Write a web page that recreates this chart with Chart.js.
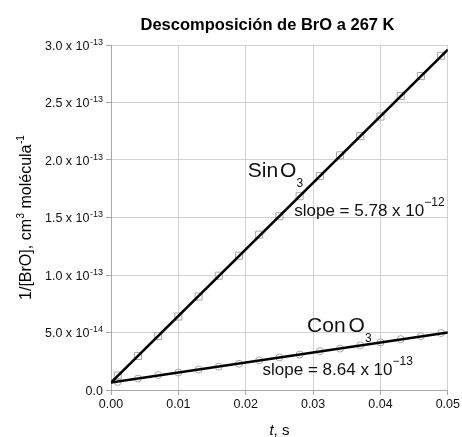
<!DOCTYPE html>
<html>
<head>
<meta charset="utf-8">
<script src="https://cdn.jsdelivr.net/npm/chart.js@4/dist/chart.umd.min.js"></script>
<style>
  body { margin: 0; background: #fff; }
</style>
</head>
<body>
<canvas id="myChart" width="462" height="437"></canvas>
<script>
// measured points, t in s, 1/[BrO] in cm3 molecule-1
const times = [0.001, 0.004, 0.007, 0.010, 0.013, 0.016, 0.019, 0.022, 0.025, 0.028, 0.031, 0.034, 0.037, 0.040, 0.043, 0.046, 0.049];
const sinO3 = [1.25e-14, 2.96e-14, 4.70e-14, 6.39e-14, 8.13e-14, 9.94e-14, 1.168e-13, 1.351e-13, 1.511e-13, 1.685e-13, 1.86e-13, 2.04e-13, 2.208e-13, 2.378e-13, 2.557e-13, 2.73e-13, 2.906e-13];
const conO3 = [7.0e-15, 1.0e-14, 1.3e-14, 1.52e-14, 1.78e-14, 2.03e-14, 2.28e-14, 2.58e-14, 2.83e-14, 3.08e-14, 3.38e-14, 3.6e-14, 3.88e-14, 4.14e-14, 4.42e-14, 4.67e-14, 4.95e-14];

// fitted lines (ends)
const fitTimes = [0, 0.05];
const sinFit = [6.5e-15, 2.96e-13];
const conFit = [6.5e-15, 5.0e-14];

// axis ticks
const xTicks = [0, 0.01, 0.02, 0.03, 0.04, 0.05];
const xTickLabels = ['0.00', '0.01', '0.02', '0.03', '0.04', '0.05'];
const yTicks = [0, 5e-14, 1e-13, 1.5e-13, 2e-13, 2.5e-13, 3e-13];
const yTickLabels = ['0.0', '5.0 x 10', '1.0 x 10', '1.5 x 10', '2.0 x 10', '2.5 x 10', '3.0 x 10'];
const yTickExps = ['', '-14', '-13', '-13', '-13', '-13', '-13'];

// text labels on the plot, anchored in data units (left, baseline)
const notes = [
  { x: 0.0203, y: 1.848e-13, parts: [['Sin', 'big'], ['O', 'big', 2], ['3', 'sub']] },
  { x: 0.0272, y: 1.517e-13, parts: [['slope = 5.78 x 10', 'mid'], ['\u221212', 'sup']] },
  { x: 0.0291, y: 0.508e-13, parts: [['Con', 'big'], ['O', 'big', 3], ['3', 'sub']] },
  { x: 0.0225, y: 0.131e-13, parts: [['slope = 8.64 x 10', 'mid'], ['\u221213', 'sup']] }
];

const FONT = '"Liberation Sans", Arial, Helvetica, sans-serif';
const styles = {
  big: { size: 21, dy: 0 },
  sub: { size: 12, dy: 10 },
  mid: { size: 17, dy: 0 },
  sup: { size: 12, dy: -10 },
  tick: { size: 12.5, dy: 0 },
  tsup: { size: 9, dy: -5 },
  ax: { size: 16, dy: 0 },
  axsup: { size: 10, dy: -7 }
};

function partsWidth(ctx, parts) {
  let w = 0;
  parts.forEach(p => {
    ctx.font = styles[p[1]].size + 'px ' + FONT;
    w += ctx.measureText(p[0]).width + (p[2] || 0);
  });
  return w;
}

function drawParts(ctx, parts, x, y) {
  ctx.textAlign = 'left';
  ctx.textBaseline = 'alphabetic';
  parts.forEach(p => {
    const st = styles[p[1]];
    x += p[2] || 0;
    ctx.font = st.size + 'px ' + FONT;
    ctx.fillText(p[0], x, y + st.dy);
    x += ctx.measureText(p[0]).width;
  });
}

const textPlugin = {
  id: 'texts',
  afterDraw(chart) {
    const ctx = chart.ctx;
    const xs = chart.scales.x, ys = chart.scales.y;
    const area = chart.chartArea;
    ctx.save();
    ctx.fillStyle = '#111';

    // y tick labels with exponents
    yTicks.forEach((v, i) => {
      const parts = [[yTickLabels[i], 'tick']];
      if (yTickExps[i]) parts.push([yTickExps[i], 'tsup', 0.5]);
      const w = partsWidth(ctx, parts);
      drawParts(ctx, parts, xs.left - 8 - w, ys.getPixelForValue(v) + 4.5);
    });

    // notes on the plot
    notes.forEach(n => {
      drawParts(ctx, n.parts, xs.getPixelForValue(n.x), ys.getPixelForValue(n.y));
    });

    // title
    ctx.fillStyle = '#000';
    ctx.font = 'bold 16.5px ' + FONT;
    ctx.textAlign = 'center';
    ctx.textBaseline = 'alphabetic';
    ctx.fillText('Descomposición de BrO a 267 K', 267.5, 29.5);

    // x axis title: italic t
    const cx = (area.left + area.right) / 2;
    ctx.font = 'italic 15px ' + FONT;
    const wt = ctx.measureText('t').width;
    ctx.font = '15px ' + FONT;
    const wr = ctx.measureText(', s').width;
    const x0 = cx - (wt + wr) / 2;
    ctx.textAlign = 'left';
    ctx.font = 'italic 15px ' + FONT;
    ctx.fillText('t', x0, 435);
    ctx.font = '15px ' + FONT;
    ctx.fillText(', s', x0 + wt, 435);

    // y axis title, rotated
    const yParts = [['1/[BrO], cm', 'ax'], ['3', 'axsup', 0.5], [' molécula', 'ax'], ['-1', 'axsup', 0.5]];
    ctx.translate(25, (area.top + area.bottom) / 2);
    ctx.rotate(-Math.PI / 2);
    const wy = partsWidth(ctx, yParts);
    drawParts(ctx, yParts, -wy / 2, 6);
    ctx.restore();
  }
};

const ctx = document.getElementById('myChart').getContext('2d');
const myChart = new Chart(ctx, {
  type: 'scatter',
  data: {
    datasets: [{
      label: 'Sin O3 fit',
      data: fitTimes.map((t, i) => ({ x: t, y: sinFit[i] })),
      showLine: true,
      borderColor: '#000',
      borderWidth: 2.5,
      pointRadius: 0
    }, {
      label: 'Con O3 fit',
      data: fitTimes.map((t, i) => ({ x: t, y: conFit[i] })),
      showLine: true,
      borderColor: '#000',
      borderWidth: 2.5,
      pointRadius: 0
    }, {
      label: 'Sin O3',
      data: times.map((t, i) => ({ x: t, y: sinO3[i] })),
      pointStyle: 'rect',
      pointRadius: 5,
      pointBorderWidth: 1,
      borderColor: '#a6a6a6',
      backgroundColor: 'rgba(255,255,255,0)'
    }, {
      label: 'Con O3',
      data: times.map((t, i) => ({ x: t, y: conO3[i] })),
      pointStyle: 'circle',
      pointRadius: 3.5,
      pointBorderWidth: 1,
      borderColor: '#a6a6a6',
      backgroundColor: 'rgba(255,255,255,0)'
    }]
  },
  options: {
    responsive: false,
    animation: false,
    devicePixelRatio: 1,
    layout: { padding: { top: 45, right: 13, bottom: 0, left: 0 } },
    plugins: { legend: { display: false }, tooltip: { enabled: false } },
    scales: {
      x: {
        type: 'linear',
        min: 0,
        max: 0.05,
        afterBuildTicks: s => { s.ticks = xTicks.map(v => ({ value: v })); },
        afterFit: s => { s.height = 47; },
        ticks: {
          callback: (v, i) => xTickLabels[i],
          font: { size: 12.5, family: FONT },
          color: '#111',
          padding: 2,
          maxRotation: 0,
          autoSkip: false
        },
        grid: { color: '#d2d2d2', tickColor: '#a8a8a8', tickLength: 5 },
        border: { color: '#a8a8a8' }
      },
      y: {
        type: 'linear',
        min: 0,
        max: 3e-13,
        afterBuildTicks: s => { s.ticks = yTicks.map(v => ({ value: v })); },
        afterFit: s => { s.width = 111; },
        ticks: { display: false },
        grid: { color: '#d2d2d2', tickColor: '#a8a8a8', tickLength: 5 },
        border: { color: '#a8a8a8' }
      }
    }
  },
  plugins: [textPlugin]
});
</script>
</body>
</html>
